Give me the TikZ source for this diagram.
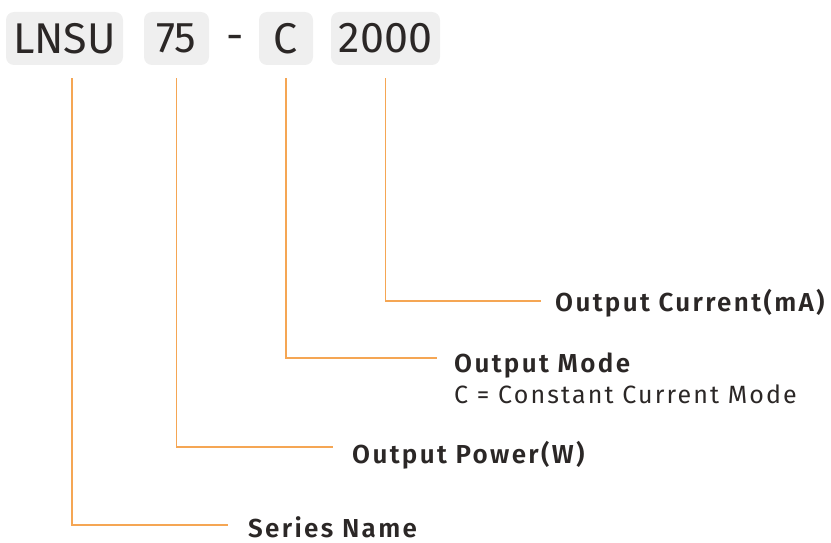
\documentclass[tikz,border=0pt]{standalone}
\usepackage{fontspec}
\setmainfont{Fira Sans}[BoldFont={Fira Sans SemiBold}]
\usetikzlibrary{positioning}
\definecolor{codegray}{RGB}{239,239,239}
\definecolor{leadorange}{RGB}{245,166,84}
\definecolor{inkdark}{RGB}{43,39,38}

\begin{document}
\begin{tikzpicture}[x=1pt, y=-1pt,
    codebox/.style={fill=codegray, rounded corners=8pt, minimum height=53pt, inner sep=0pt, text=inkdark, font=\fontsize{43}{43}\selectfont},
    tag/.style={anchor=base west, inner sep=0pt, text=inkdark, font=\bfseries\fontsize{26}{26}\selectfont\addfontfeature{LetterSpace=9}},
    lead/.style={draw=leadorange, line width=1.5pt, shorten <=13pt}]
    \useasboundingbox (0,0) rectangle (831,543);

    % code boxes along the top
    \foreach \name/\x/\w/\txt in {lnsu/64.5/117/LNSU, power/176.5/65/75, mode/286/54/C, current/385.5/109/2000} {
        \node[codebox, minimum width=\w pt] (\name) at (\x,38.5) {\txt};
    }
    \node[text=inkdark, inner sep=0pt, font=\fontsize{43}{43}\selectfont] (dash) at (235,43) {-};

    % labels
    \node[tag] (currenttag) at (555,311) {Output Current(mA)};
    \node[tag] (modetag) at (454,372) {Output Mode};
    \node[tag, font=\fontsize{25}{25}\selectfont\addfontfeature{LetterSpace=8.5}] (modenote) at (454,403) {C = Constant Current Mode};
    \node[tag] (powertag) at (352,463) {Output Power(W)};
    \node[tag] (seriestag) at (248,537) {Series Name};

    % ends of the leader lines
    \coordinate (currentend) at (541,301);
    \coordinate (modeend) at (437,358);
    \coordinate (powerend) at (333,447);
    \coordinate (seriesend) at (228,525);

    % leader lines
    \draw[lead] (current.south) |- (currentend);
    \draw[lead] (mode.south) |- (modeend);
    \draw[lead] (power.south) |- (powerend);
    \draw[lead] ([xshift=7.5pt]lnsu.south) |- (seriesend);
\end{tikzpicture}
\end{document}
